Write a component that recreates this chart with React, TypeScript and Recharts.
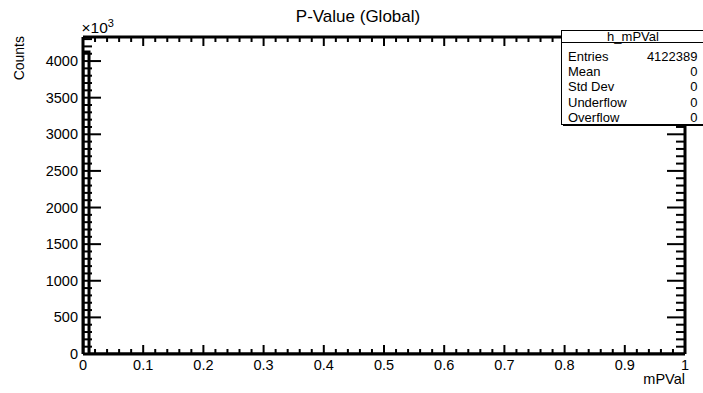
import React from 'react';
import { ComposedChart, Line, XAxis, YAxis } from 'recharts';

const histTitle = 'P-Value (Global)';
const xTitle = 'mPVal';
const yTitle = 'Counts';
const yExponentBase = '\u00d710';
const yExponent = '3';

const xMin = 0;
const xMax = 1;
// bin contents in units of 10^3 counts (100 bins over [0, 1])
const binContents = [
  4122.389, 0, 0, 0, 0, 0, 0, 0, 0, 0,
  0, 0, 0, 0, 0, 0, 0, 0, 0, 0,
  0, 0, 0, 0, 0, 0, 0, 0, 0, 0,
  0, 0, 0, 0, 0, 0, 0, 0, 0, 0,
  0, 0, 0, 0, 0, 0, 0, 0, 0, 0,
  0, 0, 0, 0, 0, 0, 0, 0, 0, 0,
  0, 0, 0, 0, 0, 0, 0, 0, 0, 0,
  0, 0, 0, 0, 0, 0, 0, 0, 0, 0,
  0, 0, 0, 0, 0, 0, 0, 0, 0, 0,
  0, 0, 0, 0, 0, 0, 0, 0, 0, 0,
];
const yMax = 4328.508;

const xMajorTicks = [0, 0.1, 0.2, 0.3, 0.4, 0.5, 0.6, 0.7, 0.8, 0.9, 1];
const xMajorLabels = ['0', '0.1', '0.2', '0.3', '0.4', '0.5', '0.6', '0.7', '0.8', '0.9', '1'];
const xMinorStep = 0.02;
const yMajorTicks = [0, 500, 1000, 1500, 2000, 2500, 3000, 3500, 4000];
const yMajorLabels = ['0', '500', '1000', '1500', '2000', '2500', '3000', '3500', '4000'];
const yMinorStep = 100;

const statsName = 'h_mPVal';
const statsLabels = ['Entries', 'Mean', 'Std Dev', 'Underflow', 'Overflow'];
const statsValues = ['4122389', '0', '0', '0', '0'];

const FONT = '"Liberation Sans", Arial, Helvetica, sans-serif';

const nBins = binContents.length;
const binW = (xMax - xMin) / nBins;
const histData: { x: number; v: number }[] = [{ x: xMin, v: 0 }];
binContents.forEach((c, i) => histData.push({ x: xMin + i * binW, v: c }));
histData.push({ x: xMax, v: binContents[nBins - 1] });

const xAllTicks: number[] = [];
for (let i = 0; i <= Math.round((xMax - xMin) / xMinorStep); i++) xAllTicks.push(Math.round((xMin + i * xMinorStep) * 1000) / 1000);
const yAllTicks: number[] = [];
for (let v = 0; v <= yMax; v += yMinorStep) yAllTicks.push(v);

const findMajor = (arr: number[], v: number) => arr.findIndex((m) => Math.abs(m - v) < 1e-9);

const XMAJ = 9, XMIN = 5, YMAJ = 18, YMIN = 9;
const LBL = 14.5;

const BottomTick = (p: any) => {
  const idx = findMajor(xMajorTicks, p.payload.value);
  const major = idx >= 0;
  return (
    <g>
      <line x1={p.x} x2={p.x} y1={p.y} y2={p.y - (major ? XMAJ : XMIN)} stroke="#000" strokeWidth={2} />
      {major && (
        <text x={p.x} y={p.y + 16} textAnchor="middle" fontSize={LBL} fontFamily={FONT} fill="#000">
          {xMajorLabels[idx]}
        </text>
      )}
    </g>
  );
};
const TopTick = (p: any) => {
  const major = findMajor(xMajorTicks, p.payload.value) >= 0;
  return <line x1={p.x} x2={p.x} y1={p.y} y2={p.y + (major ? XMAJ : XMIN)} stroke="#000" strokeWidth={2} />;
};
const LeftTick = (p: any) => {
  const idx = findMajor(yMajorTicks, p.payload.value);
  const major = idx >= 0;
  return (
    <g>
      <line x1={p.x} x2={p.x + (major ? YMAJ : YMIN)} y1={p.y} y2={p.y} stroke="#000" strokeWidth={2} />
      {major && (
        <text x={p.x - 5} y={p.y + 5} textAnchor="end" fontSize={LBL} fontFamily={FONT} fill="#000">
          {yMajorLabels[idx]}
        </text>
      )}
    </g>
  );
};
const RightTick = (p: any) => {
  const major = findMajor(yMajorTicks, p.payload.value) >= 0;
  return <line x1={p.x} x2={p.x - (major ? YMAJ : YMIN)} y1={p.y} y2={p.y} stroke="#000" strokeWidth={2} />;
};

const axisLine = { stroke: '#000', strokeWidth: 3 };

export default function App() {
  const rowBase = [60.5, 76, 91.3, 106.7, 122];
  return (
    <div style={{ position: 'absolute', left: 0, top: 0, width: 703, height: 393, background: '#fff', overflow: 'hidden' }}>
      <ComposedChart width={703} height={393} data={histData} margin={{ top: 0, right: 0, bottom: 0, left: 0 }}>
        <XAxis xAxisId="b" dataKey="x" type="number" domain={[xMin, xMax]} allowDataOverflow orientation="bottom"
          height={39} ticks={xAllTicks} interval={0} tickSize={0} tickMargin={0} tickLine={false}
          axisLine={axisLine} tick={<BottomTick />} />
        <XAxis xAxisId="t" dataKey="x" type="number" domain={[xMin, xMax]} allowDataOverflow orientation="top"
          height={37} ticks={xAllTicks} interval={0} tickSize={0} tickMargin={0} tickLine={false}
          axisLine={axisLine} tick={<TopTick />} />
        <YAxis yAxisId="l" type="number" domain={[0, yMax]} allowDataOverflow orientation="left" width={83}
          ticks={yAllTicks} interval={0} tickSize={0} tickMargin={0} tickLine={false}
          axisLine={axisLine} tick={<LeftTick />} />
        <YAxis yAxisId="r" type="number" domain={[0, yMax]} allowDataOverflow orientation="right" width={18}
          ticks={yAllTicks} interval={0} tickSize={0} tickMargin={0} tickLine={false}
          axisLine={axisLine} tick={<RightTick />} />
        <Line xAxisId="t" yAxisId="r" dataKey="v" type="stepAfter" stroke="none" dot={false} isAnimationActive={false} />
        <Line xAxisId="b" yAxisId="l" dataKey="v" type="stepAfter" stroke="#000" strokeWidth={3} dot={false}
          isAnimationActive={false} />
      </ComposedChart>
      <svg width={703} height={393} style={{ position: 'absolute', left: 0, top: 0, pointerEvents: 'none' }}
        fontFamily={FONT}>
        <text x={358} y={22} textAnchor="middle" fontSize={17} fill="#000">{histTitle}</text>
        <text x={81.5} y={33} fontSize={15.5} fill="#000">
          {yExponentBase}
          <tspan dy={-6} fontSize={11}>{yExponent}</tspan>
        </text>
        <text transform="translate(23.5,36) rotate(-90)" textAnchor="end" fontSize={14} fill="#000">{yTitle}</text>
        <text x={685} y={384} textAnchor="end" fontSize={14.5} fill="#000">{xTitle}</text>
        <rect x={563} y={124} width={142} height={2} fill="#000" />
        <rect x={561.5} y={30.5} width={145} height={94} fill="#fff" stroke="#000" strokeWidth={1} />
        <line x1={561.5} x2={703} y1={42.5} y2={42.5} stroke="#000" strokeWidth={1} />
        <text x={633} y={40.5} textAnchor="middle" fontSize={13} fill="#000">{statsName}</text>
        {statsLabels.map((l, i) => (
          <g key={l}>
            <text x={568} y={rowBase[i]} fontSize={13} fill="#000">{l}</text>
            <text x={697.5} y={rowBase[i]} textAnchor="end" fontSize={13} fill="#000">{statsValues[i]}</text>
          </g>
        ))}
      </svg>
    </div>
  );
}
